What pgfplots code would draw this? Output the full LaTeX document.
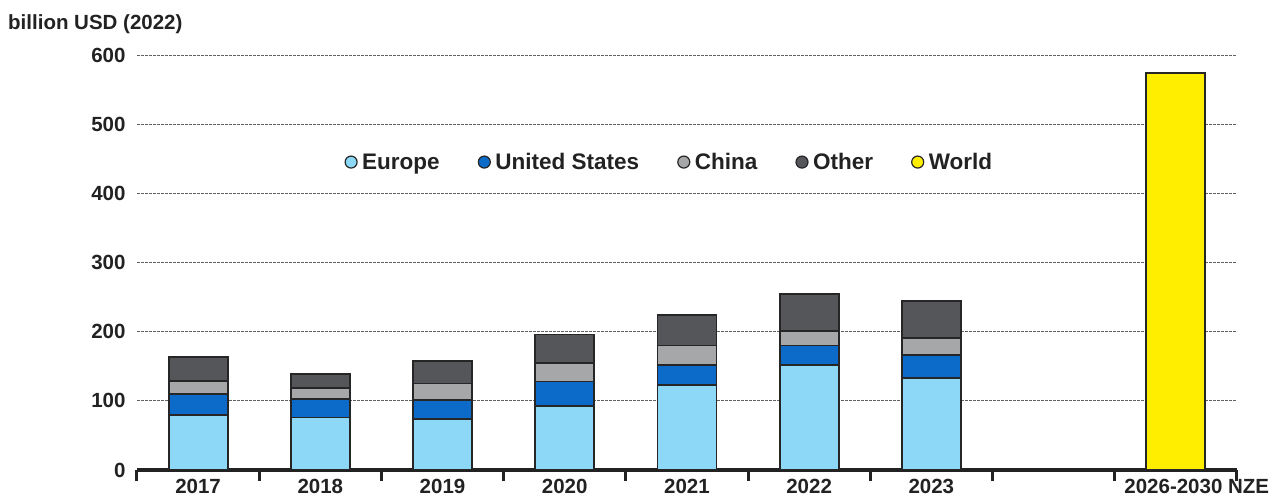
\documentclass[border=0pt]{standalone}
\usepackage{fontspec}
\setmainfont{Liberation Sans}
\usepackage{pgfplots}
\pgfplotsset{compat=1.18}
\definecolor{eur}{HTML}{8DD8F6}
\definecolor{usa}{HTML}{0C6BC9}
\definecolor{chn}{HTML}{A6A7A9}
\definecolor{oth}{HTML}{55565A}
\definecolor{wld}{HTML}{FFEE00}
\definecolor{edge}{HTML}{262626}
\definecolor{axisc}{HTML}{222222}
\definecolor{gridc}{HTML}{606060}
\begin{document}
\begin{tikzpicture}
\useasboundingbox (-137pt,-30pt) rectangle (1148pt,470pt);
\begin{axis}[
  at={(0pt,0pt)}, anchor=south west,
  scale only axis, width=1100pt, height=415pt,
  xmin=-0.5, xmax=8.5, ymin=0, ymax=600,
  ybar stacked, bar width=59pt,
  axis x line*=bottom, axis y line*=left,
  axis line style={line width=3.4pt, color=axisc, -},
  every outer x axis line/.append style={line width=3.4pt, color=axisc},
  y axis line style={draw=none},
  every outer y axis line/.append style={draw=none},
  ytick={0,100,...,600}, ytick style={draw=none},
  xtick={0,1,2,3,4,5,6,7,8},
  xticklabels={2017,2018,2019,2020,2021,2022,2023,{},{\hspace*{42pt}2026-2030 NZE}},
  major tick length=0pt,
  minor xtick={-0.5,0.5,1.5,2.5,3.5,4.5,5.5,6.5,7.5,8.5},
  minor x tick style={line width=3pt, color=axisc},
  every minor tick/.append style={line width=3pt, color=axisc},
  minor tick length=11pt, tick align=outside,
  ymajorgrids,
  grid style={color=gridc, line width=0.8pt, dash pattern=on 3pt off 1pt},
  /pgf/number format/assume math mode=true,
  tick label style={font=\bfseries\fontsize{20.5}{21}\selectfont, color=axisc},
  xticklabel style={yshift=-6pt},
  yticklabel style={xshift=-8pt},
  every axis plot/.append style={draw=edge, line width=1.8pt},
  legend style={at={(rel axis cs:0.484,0.742)}, anchor=center, draw=none, fill=none,
    font=\bfseries\fontsize{22.5}{23}\selectfont, text=axisc,
    /tikz/every odd column/.append style={column sep=2.5pt},
    /tikz/every even column/.append style={column sep=36pt}},
  legend columns=5,
  legend image code/.code={\draw[#1,/tikz/.cd,line width=1.2pt] (0pt,0pt) circle (6pt);},
]
\addplot[fill=eur] coordinates {(0,80) (1,76) (2,74) (3,92) (4,123) (5,152) (6,133) (8,0)};
\addplot[fill=usa] coordinates {(0,30) (1,27) (2,27) (3,36) (4,29) (5,28) (6,33) (8,0)};
\addplot[fill=chn] coordinates {(0,19) (1,15) (2,24) (3,27) (4,28) (5,21) (6,24.5) (8,0)};
\addplot[fill=oth] coordinates {(0,34) (1,21) (2,33) (3,41) (4,44) (5,54) (6,53.5) (8,0)};
\addplot[fill=wld] coordinates {(0,0) (1,0) (2,0) (3,0) (4,0) (5,0) (6,0) (8,574)};
\legend{Europe, United States, China, Other, World}
\end{axis}
\node[anchor=base west, font=\bfseries\fontsize{20.5}{21}\selectfont, text=axisc, inner sep=0pt] at (-129pt,440.5pt) {billion USD (2022)};
\end{tikzpicture}
\end{document}
